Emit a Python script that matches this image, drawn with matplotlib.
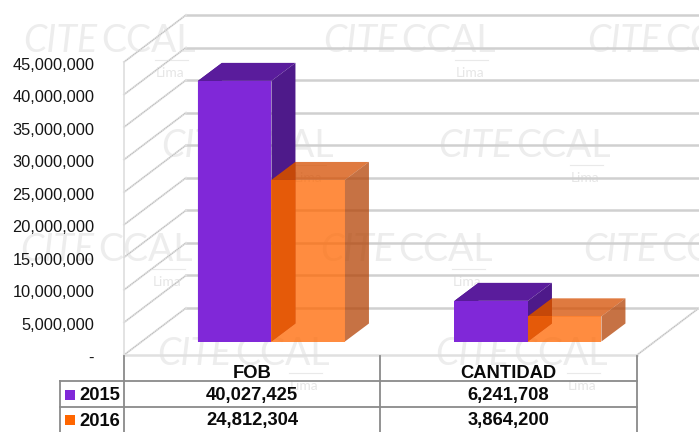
import matplotlib
matplotlib.use('Agg')
import matplotlib.pyplot as plt
from matplotlib.lines import Line2D
from matplotlib.patches import Polygon, Rectangle
from matplotlib.transforms import ScaledTranslation

W, H = 699, 432

categorias = ['FOB', 'CANTIDAD']
anios = ['2015', '2016']
valores_2015 = [40027425, 6241708]
valores_2016 = [24812304, 3864200]
ticks = [0, 5000000, 10000000, 15000000, 20000000, 25000000, 30000000, 35000000, 40000000, 45000000]
tick_labels = ['-', '5,000,000', '10,000,000', '15,000,000', '20,000,000', '25,000,000',
               '30,000,000', '35,000,000', '40,000,000', '45,000,000']
tabla_2015 = ['40,027,425', '6,241,708']
tabla_2016 = ['24,812,304', '3,864,200']

plt.rcParams['font.family'] = ['Liberation Sans', 'DejaVu Sans']

fig = plt.figure(figsize=(W / 100, H / 100), dpi=100)
fig.patch.set_facecolor('white')

# plano frontal del grafico, en pixeles: x 124-637, y 355-62
ax = fig.add_axes([124 / W, 1 - 355 / H, (637 - 124) / W, (355 - 62) / H])
ax.patch.set_visible(False)
ax.set_xlim(0, 2)
ax.set_ylim(0, 45000000)
for s in ax.spines.values():
    s.set_visible(False)
ax.set_xticks([])
ax.set_yticks(ticks)
ax.set_yticklabels(tick_labels, fontsize=11.8, color='#151515')
ax.tick_params(axis='y', length=0, pad=21.5)
# las etiquetas van un poco mas abajo que la linea
bajar = ScaledTranslation(0, -1.5 / 100, fig.dpi_scale_trans)
for lbl in ax.get_yticklabels():
    lbl.set_transform(lbl.get_transform() + bajar)

# profundidad en unidades de datos
px_x = 2 / (637 - 124)
px_y = 45000000 / (355 - 62)
fondo_x = 62 * px_x
fondo_y = 47 * px_y


def x_fig(p):
    return p / W


def y_fig(p):
    return 1 - p / H


def marca_agua(x, y):
    fig.text(x_fig(x), y_fig(y + 27), 'CITE', fontsize=27, family='Lato', style='italic',
             color='#ededed', zorder=-2)
    fig.text(x_fig(x + 78), y_fig(y + 27), 'CCAL', fontsize=27, family='Lato',
             color='#ededed', zorder=-2)
    fig.add_artist(Line2D([x_fig(x + 132), x_fig(x + 165)], [y_fig(y + 35)] * 2, color='#e9e9e9', lw=0.8, zorder=-2))
    fig.text(x_fig(x + 133), y_fig(y + 52), 'Lima', fontsize=10, family='Lato',
             color='#e6e6e6', zorder=-2)


for x, y in [(23, 25), (323, 25), (587, 25), (161, 130), (438, 130),
             (20, 234), (320, 234), (583, 234), (157, 338), (435, 338)]:
    marca_agua(x, y)

# paredes y rejilla
for t in ticks:
    ax.plot([fondo_x, 2 + fondo_x], [t + fondo_y] * 2, color='#d0d0d0', lw=1.8, clip_on=False, zorder=1)
    ax.plot([0, fondo_x], [t, t + fondo_y], color='#e2e2e2', lw=1.4, clip_on=False, zorder=1)
    ax.plot([0, fondo_x], [t, t + fondo_y], color='#b4b4b4', lw=0.7, ls=(0, (1, 1)), clip_on=False, zorder=1)
ax.plot([2, 2 + fondo_x], [0, fondo_y], color='#e2e2e2', lw=1.4, clip_on=False, zorder=1)
ax.plot([2, 2 + fondo_x], [0, fondo_y], color='#b4b4b4', lw=0.7, ls=(0, (1, 1)), clip_on=False, zorder=1)
ax.plot([0, 0], [0, 45000000], color='#dedede', lw=1.2, clip_on=False, zorder=1)
ax.plot([0, 2], [0, 0], color='#e0e0e0', lw=1.8, clip_on=False, zorder=1)

ancho = 73.5 * px_x
base_x = 19.2 * px_x
base_y = 13.5 * px_y
prof_x = 24 * px_x
prof_y = 18 * px_y


def barra(x0, valor, frente, lado, arriba, alpha, z):
    x = x0 + base_x
    b = base_y
    t = base_y + valor
    caras = [
        ([(x, b), (x + prof_x, b + prof_y), (x + prof_x, t + prof_y), (x, t)], lado),
        ([(x, t), (x + ancho, t), (x + ancho + prof_x, t + prof_y), (x + prof_x, t + prof_y)], arriba),
        ([(x + ancho, b), (x + ancho + prof_x, b + prof_y), (x + ancho + prof_x, t + prof_y), (x + ancho, t)], lado),
        ([(x, b), (x + ancho, b), (x + ancho, t), (x, t)], frente),
    ]
    for i, (pts, col) in enumerate(caras):
        ax.add_patch(Polygon(pts, closed=True, facecolor=col, edgecolor='none', alpha=alpha,
                             clip_on=False, zorder=z + i * 0.1))


for i in range(len(categorias)):
    centro = i + 0.5
    barra(centro - ancho, valores_2015[i], '#8028d8', '#4e1a8a', '#5a1c9c', 1, 3)
    barra(centro, valores_2016[i], '#ff6600', '#b34305', '#d54e00', 0.75, 4)

# tabla
GRIS = '#8a8a8a'
filas_y = [381, 407]
for p in filas_y:
    fig.add_artist(Line2D([x_fig(60), x_fig(637)], [y_fig(p)] * 2, color=GRIS, lw=1.3, zorder=5))
fig.add_artist(Line2D([x_fig(60)] * 2, [y_fig(381), y_fig(432)], color=GRIS, lw=1.3, zorder=5))
for p in [124, 380, 637]:
    fig.add_artist(Line2D([x_fig(p)] * 2, [y_fig(356), y_fig(432)], color=GRIS, lw=1.3, zorder=5))

centros = [252, 508.5]
for i, c in enumerate(categorias):
    fig.text(x_fig(centros[i]), y_fig(373), c, fontsize=13.2, weight='bold', ha='center', va='center', color='#0a0a0a')
    fig.text(x_fig(centros[i]), y_fig(395.5), tabla_2015[i], fontsize=13.2, weight='bold', ha='center', va='center', color='#0a0a0a')
    fig.text(x_fig(centros[i]), y_fig(421), tabla_2016[i], fontsize=13.2, weight='bold', ha='center', va='center', color='#0a0a0a')

for nombre, col, y, yt in [(anios[0], '#8028d8', 394.5, 395.5), (anios[1], '#ff6600', 420, 421)]:
    fig.add_artist(Rectangle((x_fig(65), y_fig(y + 5)), 10 / W, 10 / H, facecolor=col, edgecolor='none',
                             transform=fig.transFigure, zorder=5))
    fig.text(x_fig(79), y_fig(yt), nombre, fontsize=13.2, weight='bold', ha='left', va='center', color='#0a0a0a')

fig.savefig('out.png', dpi=100)
